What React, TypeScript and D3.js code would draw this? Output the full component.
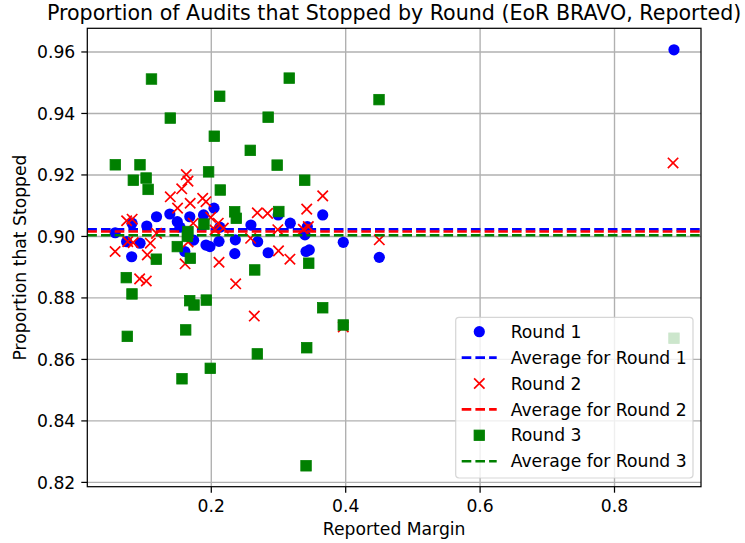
import React from "react";
import * as d3 from "d3";

// Round 1 (blue circles)
const round1: [number, number][] = [
  [0.057, 0.9012], [0.074, 0.8983], [0.082, 0.9043], [0.0815, 0.8934],
  [0.094, 0.8978], [0.104, 0.9034], [0.1185, 0.9064], [0.1383, 0.9073],
  [0.1494, 0.9048], [0.1534, 0.903], [0.168, 0.9064], [0.1606, 0.8951],
  [0.1737, 0.8988], [0.1885, 0.907], [0.204, 0.9092], [0.1921, 0.8972],
  [0.198, 0.8967], [0.2115, 0.8984], [0.2127, 0.903], [0.2358, 0.8989],
  [0.235, 0.8944], [0.259, 0.9037], [0.269, 0.8983], [0.2846, 0.8947],
  [0.2995, 0.907], [0.3175, 0.9043], [0.3394, 0.9005], [0.3429, 0.9032],
  [0.341, 0.8951], [0.3458, 0.8956], [0.3658, 0.907], [0.3964, 0.8981],
  [0.45, 0.8932], [0.8885, 0.9607],
];

// Round 2 (red crosses)
const round2: [number, number][] = [
  [0.1628, 0.9201], [0.1653, 0.918], [0.156, 0.9155], [0.139, 0.9129],
  [0.1686, 0.9108], [0.1498, 0.9092], [0.1872, 0.9124], [0.1921, 0.9113],
  [0.074, 0.9051], [0.0822, 0.9056], [0.1185, 0.901], [0.0757, 0.8983],
  [0.0838, 0.898], [0.1093, 0.8978], [0.0569, 0.8951], [0.1048, 0.894],
  [0.0934, 0.8862], [0.1033, 0.8855], [0.161, 0.8911], [0.1731, 0.9043],
  [0.1655, 0.8982], [0.1991, 0.9062], [0.2104, 0.9043], [0.2055, 0.9021],
  [0.2179, 0.9027], [0.2115, 0.8916], [0.2363, 0.8846], [0.2685, 0.9077],
  [0.2838, 0.9075], [0.2585, 0.8994], [0.299, 0.9022], [0.3, 0.8953],
  [0.264, 0.8741], [0.3658, 0.9132], [0.342, 0.9089], [0.337, 0.9023],
  [0.3444, 0.9032], [0.317, 0.8926], [0.45, 0.8989], [0.3964, 0.8706],
  [0.8871, 0.9239],
];

// Round 3 (green squares)
const round3: [number, number][] = [
  [0.111, 0.9512], [0.2125, 0.9456], [0.316, 0.9515], [0.139, 0.9385],
  [0.2846, 0.9388], [0.2045, 0.9326], [0.258, 0.928], [0.0572, 0.9233],
  [0.0939, 0.9233], [0.298, 0.9232], [0.196, 0.921], [0.084, 0.9183],
  [0.103, 0.919], [0.106, 0.9153], [0.2134, 0.9151], [0.339, 0.9183],
  [0.2348, 0.908], [0.2372, 0.9059], [0.3005, 0.9081], [0.1891, 0.904],
  [0.1653, 0.9016], [0.1643, 0.9], [0.1494, 0.8967], [0.1688, 0.8929],
  [0.1182, 0.8926], [0.2646, 0.8891], [0.0735, 0.8866], [0.082, 0.8813],
  [0.1679, 0.8791], [0.1743, 0.8777], [0.1926, 0.8793], [0.1619, 0.8696],
  [0.075, 0.8675], [0.2685, 0.8618], [0.1985, 0.8571], [0.1564, 0.8537],
  [0.345, 0.8913], [0.3658, 0.8768], [0.3964, 0.8712], [0.342, 0.8638],
  [0.341, 0.8254], [0.8885, 0.8669], [0.4496, 0.9445],
];

const averages = [0.9023, 0.9016, 0.9004];
const colors = ["#0000ff", "#ff0000", "#008000"];
const legendLabels = [
  "Round 1", "Average for Round 1",
  "Round 2", "Average for Round 2",
  "Round 3", "Average for Round 3",
];
const xTicks = [0.2, 0.4, 0.6, 0.8];
const yTicks = [0.82, 0.84, 0.86, 0.88, 0.9, 0.92, 0.94, 0.96];

const W = 745;
const H = 543;
const m = { left: 87.3, right: 701, top: 28.3, bottom: 486.7 };
const font = "DejaVu Sans, sans-serif";

const x = d3.scaleLinear().domain([0.0155, 0.9287]).range([m.left, m.right]);
const y = d3.scaleLinear().domain([0.8186, 0.9677]).range([m.bottom, m.top]);

const Cross = ({ cx, cy, color, s = 5.2 }: any) => (
  <path
    d={`M${cx - s},${cy - s}L${cx + s},${cy + s}M${cx - s},${cy + s}L${cx + s},${cy - s}`}
    stroke={color}
    strokeWidth={1.7}
    fill="none"
  />
);

const Square = ({ cx, cy, color, s = 10.5 }: any) => (
  <rect
    x={cx - s / 2}
    y={cy - s / 2}
    width={s}
    height={s}
    fill={color}
    stroke={color}
    strokeWidth={0.8}
  />
);

const AvgLine = ({ x1, x2, yy, color }: any) => (
  <line x1={x1} x2={x2} y1={yy} y2={yy} stroke={color} strokeWidth={2.6} strokeDasharray="9.6,4.1" />
);

const App = () => {
  const legendX = 455.7;
  const legendY = 317.3;
  const rowH = 25.9;
  return (
    <svg width={W} height={H} style={{ position: "absolute", left: 0, top: 0 }} fontFamily={font}>
      <rect width={W} height={H} fill="#fff" />
      <defs>
        <clipPath id="plot">
          <rect x={m.left} y={m.top} width={m.right - m.left} height={m.bottom - m.top} />
        </clipPath>
      </defs>
      {/* grid */}
      {xTicks.map((t) => (
        <line key={"gx" + t} x1={x(t)} x2={x(t)} y1={m.top} y2={m.bottom} stroke="#b0b0b0" strokeWidth={1.37} />
      ))}
      {yTicks.map((t) => (
        <line key={"gy" + t} x1={m.left} x2={m.right} y1={y(t)} y2={y(t)} stroke="#b0b0b0" strokeWidth={1.37} />
      ))}
      <g clipPath="url(#plot)">
        {round1.map(([a, b], i) => (
          <circle key={"r1" + i} cx={x(a)} cy={y(b)} r={5.6} fill={colors[0]} />
        ))}
        <AvgLine x1={m.left} x2={m.right} yy={y(averages[0])} color={colors[0]} />
        {round2.map(([a, b], i) => (
          <Cross key={"r2" + i} cx={x(a)} cy={y(b)} color={colors[1]} />
        ))}
        <AvgLine x1={m.left} x2={m.right} yy={y(averages[1])} color={colors[1]} />
        <AvgLine x1={m.left} x2={m.right} yy={y(averages[2])} color={colors[2]} />
        {round3.map(([a, b], i) => (
          <Square key={"r3" + i} cx={x(a)} cy={y(b)} color={colors[2]} />
        ))}
      </g>
      {/* frame */}
      <rect x={m.left} y={m.top} width={m.right - m.left} height={m.bottom - m.top} fill="none" stroke="#000" strokeWidth={1.24} />
      {/* ticks */}
      {xTicks.map((t) => (
        <g key={"tx" + t}>
          <line x1={x(t)} x2={x(t)} y1={m.bottom} y2={m.bottom + 6} stroke="#000" strokeWidth={1.24} />
          <text x={x(t)} y={m.bottom + 25} textAnchor="middle" fontSize={17.2}>
            {d3.format(".1f")(t)}
          </text>
        </g>
      ))}
      {yTicks.map((t) => (
        <g key={"ty" + t}>
          <line x1={m.left - 6} x2={m.left} y1={y(t)} y2={y(t)} stroke="#000" strokeWidth={1.24} />
          <text x={m.left - 12} y={y(t)} dy="0.36em" textAnchor="end" fontSize={17.2}>
            {d3.format(".2f")(t)}
          </text>
        </g>
      ))}
      {/* labels */}
      <text x={(m.left + m.right) / 2} y={535} textAnchor="middle" fontSize={17.2}>
        Reported Margin
      </text>
      <text
        transform={`translate(25.5,${(m.top + m.bottom) / 2}) rotate(-90)`}
        textAnchor="middle"
        fontSize={17.2}
      >
        Proportion that Stopped
      </text>
      <text x={(m.left + m.right) / 2} y={19.5} textAnchor="middle" fontSize={20.6}>
        Proportion of Audits that Stopped by Round (EoR BRAVO, Reported)
      </text>
      {/* legend */}
      <rect
        x={legendX}
        y={legendY}
        width={693 - legendX}
        height={478 - legendY}
        rx={3.4}
        fill="#fff"
        fillOpacity={0.8}
        stroke="#cccccc"
        strokeOpacity={0.8}
        strokeWidth={1.24}
      />
      {legendLabels.map((lab, i) => {
        const cy = 331.7 + i * rowH;
        const c = colors[Math.floor(i / 2)];
        let sym;
        if (i % 2 === 1) sym = <AvgLine x1={461.7} x2={496.7} yy={cy} color={c} />;
        else if (i === 0) sym = <circle cx={479.3} cy={cy} r={5.6} fill={c} />;
        else if (i === 2) sym = <Cross cx={479.3} cy={cy} color={c} />;
        else sym = <Square cx={479.3} cy={cy} color={c} />;
        return (
          <g key={lab}>
            {sym}
            <text x={510.7} y={cy} dy="0.36em" fontSize={17.2}>
              {lab}
            </text>
          </g>
        );
      })}
    </svg>
  );
};

export default App;
